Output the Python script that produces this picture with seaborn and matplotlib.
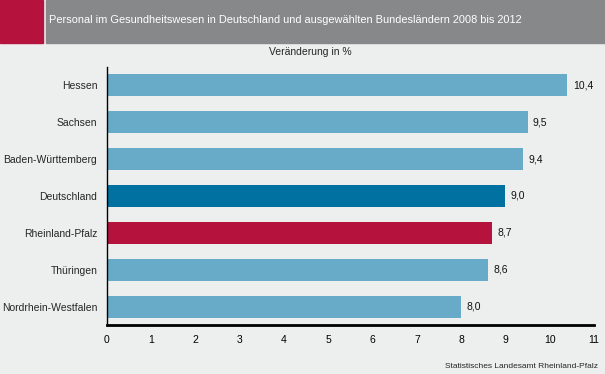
# Personal im Gesundheitswesen - Veränderung 2008 bis 2012
import pandas as pd
import matplotlib.pyplot as plt
import seaborn as sns
from matplotlib.patches import Rectangle

# Data
laender = ['Hessen', 'Sachsen', 'Baden-Württemberg', 'Deutschland',
           'Rheinland-Pfalz', 'Thüringen', 'Nordrhein-Westfalen']
veraenderung = [10.4, 9.5, 9.4, 9.0, 8.7, 8.6, 8.0]
x_ticks = list(range(0, 12))

hell = '#67abc9'
farben = [hell, hell, hell, '#0071a1', '#b5123e', hell, hell]

df = pd.DataFrame({'land': laender, 'wert': veraenderung})

sns.set_style('white')
plt.rcParams['font.family'] = ['Liberation Sans', 'DejaVu Sans']

bg = '#edeeee'
fig = plt.figure(figsize=(6.05, 3.74), dpi=100, facecolor=bg)

# Header bar
fig.patches.append(Rectangle((0, 1 - 43 / 374), 43 / 605, 43 / 374,
                             transform=fig.transFigure, color='#b5123e', zorder=0))
fig.patches.append(Rectangle((46 / 605, 1 - 43 / 374), 1 - 46 / 605, 43 / 374,
                             transform=fig.transFigure, color='#87888a', zorder=0))
fig.text(49 / 605, 1 - 20 / 374,
         'Personal im Gesundheitswesen in Deutschland und ausgewählten Bundesländern 2008 bis 2012',
         color='white', fontsize=7.9, va='center', ha='left')

ax = fig.add_axes([107 / 605, 1 - 325 / 374, (594 - 107) / 605, (325 - 67) / 374])
ax.set_facecolor(bg)

sns.barplot(data=df, x='wert', y='land', hue='land', palette=farben,
            legend=False, width=0.6, saturation=1, linewidth=0, ax=ax)

# Value labels with decimal comma
for i, v in enumerate(veraenderung):
    ax.text(v + 0.12, i, f'{v:.1f}'.replace('.', ','), va='center', ha='left',
            fontsize=7.5, color='#111111')

ax.set_xlim(0, 11)
ax.set_ylim(6.5, -0.5)
ax.set_xticks(x_ticks)
ax.set_xlabel('')
ax.set_ylabel('')
ax.tick_params(axis='x', labelsize=7.5, length=4, width=1, colors='black', pad=3)
ax.tick_params(axis='y', which='major', labelsize=7.5, length=0, pad=7)
ax.set_yticks([i + 0.5 for i in range(-1, 7)], minor=True)
ax.tick_params(axis='y', which='minor', length=4, width=1, color='black')

for s in ['top', 'right']:
    ax.spines[s].set_visible(False)
ax.spines['left'].set_color('black')
ax.spines['left'].set_linewidth(1)
ax.spines['bottom'].set_color('black')
ax.spines['bottom'].set_linewidth(2)

fig.text(310 / 605, 1 - 52 / 374, 'Veränderung in %', fontsize=7.5, ha='center', va='center')
fig.text(598 / 605, 1 - 367 / 374, 'Statistisches Landesamt Rheinland-Pfalz',
         fontsize=6, ha='right', va='center')

fig.savefig('out.png', dpi=100, facecolor=bg)
